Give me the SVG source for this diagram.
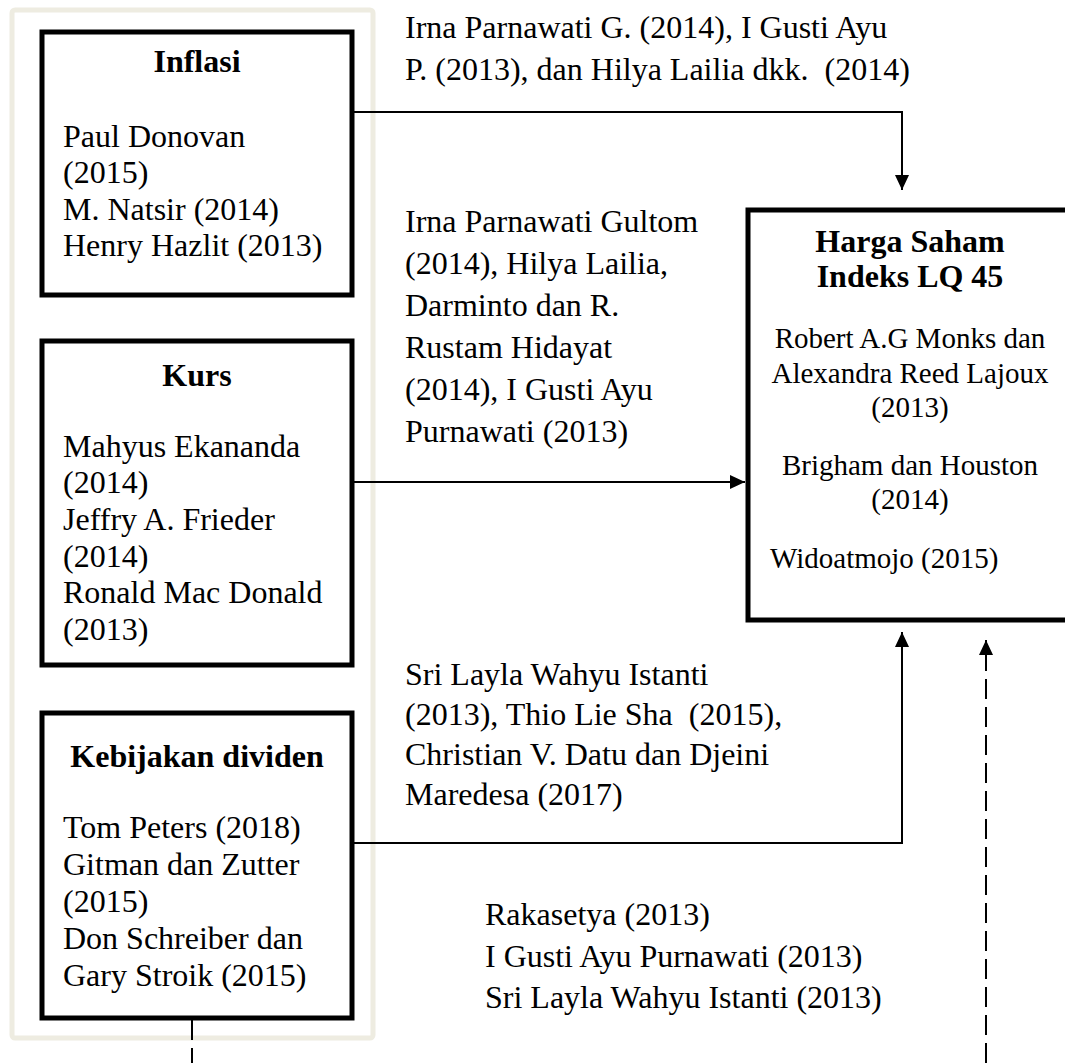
<svg xmlns="http://www.w3.org/2000/svg" width="1065" height="1063" viewBox="0 0 1065 1063">
<style>
text{font-family:"Liberation Serif","Times New Roman",serif;fill:#000}
.t{font-size:32px}
.b{font-size:32px;font-weight:bold;text-anchor:middle}
.s{font-size:29px}
.c{text-anchor:middle}
.box{fill:#fff;stroke:#000;stroke-width:5}
.ln{fill:none;stroke:#000;stroke-width:2}
.dash{fill:none;stroke:#000;stroke-width:2;stroke-dasharray:20 8}
</style>
<defs>
<marker id="ah" markerUnits="userSpaceOnUse" markerWidth="16" markerHeight="16" viewBox="0 0 16 16" refX="15" refY="8" orient="auto">
<path d="M0,1 L15,8 L0,15 Z" fill="#000"/>
</marker>
</defs>
<rect x="12" y="10" width="361" height="1028" rx="3" fill="none" stroke="#eeece1" stroke-width="5"/>
<g id="connectors">
<path class="ln" d="M352,112 H902 V190" marker-end="url(#ah)"/>
<path class="ln" d="M352,482 H745" marker-end="url(#ah)"/>
<path class="ln" d="M352,843 H902 V632" marker-end="url(#ah)"/>
<path class="dash" d="M986,1063 V640" marker-end="url(#ah)"/>
<path class="dash" d="M192,1020 V1063"/>
</g>
<g id="inflasi">
<rect class="box" x="42" y="32" width="310" height="263"/>
<text class="b" x="197" y="72">Inflasi</text>
<text class="t" x="63" y="147">Paul Donovan</text>
<text class="t" x="63" y="183">(2015)</text>
<text class="t" x="63" y="220">M. Natsir (2014)</text>
<text class="t" x="63" y="256">Henry Hazlit (2013)</text>
</g>
<g id="kurs">
<rect class="box" x="42" y="341" width="310" height="324"/>
<text class="b" x="197" y="386">Kurs</text>
<text class="t" x="63" y="457">Mahyus Ekananda</text>
<text class="t" x="63" y="493">(2014)</text>
<text class="t" x="63" y="530">Jeffry A. Frieder</text>
<text class="t" x="63" y="567">(2014)</text>
<text class="t" x="63" y="603">Ronald Mac Donald</text>
<text class="t" x="63" y="640">(2013)</text>
</g>
<g id="kebijakan">
<rect class="box" x="42" y="713" width="310" height="305"/>
<text class="b" x="197" y="767">Kebijakan dividen</text>
<text class="t" x="63" y="838">Tom Peters (2018)</text>
<text class="t" x="63" y="875">Gitman dan Zutter</text>
<text class="t" x="63" y="912">(2015)</text>
<text class="t" x="63" y="949">Don Schreiber dan</text>
<text class="t" x="63" y="986">Gary Stroik (2015)</text>
</g>
<g id="harga">
<rect class="box" x="748" y="210" width="330" height="410"/>
<text class="b" x="910" y="252">Harga Saham</text>
<text class="b" x="910" y="287">Indeks LQ 45</text>
<text class="s c" x="910" y="348">Robert A.G Monks dan</text>
<text class="s c" x="910" y="383">Alexandra Reed Lajoux</text>
<text class="s c" x="910" y="417">(2013)</text>
<text class="s c" x="910" y="475">Brigham dan Houston</text>
<text class="s c" x="910" y="509">(2014)</text>
<text class="s" x="770" y="568">Widoatmojo (2015)</text>
</g>
<g id="labels">
<text class="t" x="405" y="38">Irna Parnawati G. (2014), I Gusti Ayu</text>
<text class="t" x="405" y="80" xml:space="preserve">P. (2013), dan Hilya Lailia dkk.  (2014)</text>
<text class="t" x="405" y="232">Irna Parnawati Gultom</text>
<text class="t" x="405" y="274">(2014), Hilya Lailia,</text>
<text class="t" x="405" y="316">Darminto dan R.</text>
<text class="t" x="405" y="358">Rustam Hidayat</text>
<text class="t" x="405" y="400">(2014), I Gusti Ayu</text>
<text class="t" x="405" y="442">Purnawati (2013)</text>
<text class="t" x="405" y="685">Sri Layla Wahyu Istanti</text>
<text class="t" x="405" y="725" xml:space="preserve">(2013), Thio Lie Sha  (2015),</text>
<text class="t" x="405" y="765">Christian V. Datu dan Djeini</text>
<text class="t" x="405" y="805">Maredesa (2017)</text>
<text class="t" x="485" y="925">Rakasetya (2013)</text>
<text class="t" x="485" y="967">I Gusti Ayu Purnawati (2013)</text>
<text class="t" x="485" y="1008">Sri Layla Wahyu Istanti (2013)</text>
</g>
</svg>
